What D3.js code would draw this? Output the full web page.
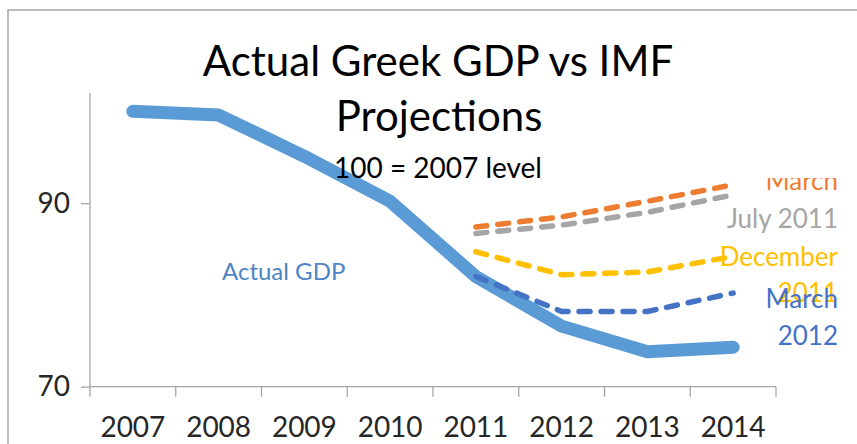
<!DOCTYPE html>
<html><head><meta charset="utf-8">
<script src="https://cdn.jsdelivr.net/npm/d3@7"></script>
<style>
html,body{margin:0;padding:0;background:#fff;}
svg{display:block;font-family:Lato,"Open Sans",sans-serif;}
</style></head>
<body>
<svg id="c" width="857" height="444"></svg>
<script>
const years = ['2007','2008','2009','2010','2011','2012','2013','2014'];
const actualGDP   = [100, 99.6, 95.1, 90.2, 82.0, 76.6, 73.8, 74.3];
const march2011   = [null, null, null, null, 87.4, 88.5, 90.2, 92.0];
const july2011    = [null, null, null, null, 86.7, 87.6, 89.0, 90.9];
const december2011= [null, null, null, null, 84.7, 82.2, 82.5, 84.2];
const march2012   = [null, null, null, null, 82.0, 78.2, 78.2, 80.2];
const yTicks = [70, 90];

const svg = d3.select('#c');
// outer chart frame
svg.append('path').attr('d','M8,450 L8,10 L860,10').attr('fill','none')
  .attr('stroke','#a6a6a6').attr('stroke-width',1.5);

const x = d3.scaleBand().domain(years).range([90,776]).padding(0);
const y = d3.scaleLinear().domain([70,102]).range([386.7,93]);

// axes
const gy = svg.append('g').attr('transform','translate(90,0)')
  .call(d3.axisLeft(y).tickValues(yTicks).tickSize(9).tickPadding(10).tickFormat(d3.format('d')));
gy.select('.domain').attr('stroke','#a6a6a6').attr('stroke-width',1.3).attr('d','M0,93V386.7');
gy.selectAll('.tick line').attr('stroke','#a6a6a6').attr('stroke-width',1.3);
gy.selectAll('.tick text').attr('font-size',28).attr('fill','#262626').attr('font-family','Lato').attr('dx',-1);

const gx = svg.append('g').attr('transform','translate(0,386.7)')
  .call(d3.axisBottom(x).tickSize(0).tickPadding(0));
gx.select('.domain').attr('stroke','#a6a6a6').attr('stroke-width',1.3).attr('d','M90,0H776');
gx.selectAll('.tick line').remove();
gx.selectAll('.tick text').attr('font-size',28).attr('fill','#262626').attr('dy',0).attr('y',50).attr('font-family','Lato');
// category boundary ticks
const bounds = years.map(d=>x(d)).concat([x(years[years.length-1])+x.bandwidth()]);
gx.selectAll('line.bt').data(bounds).enter().append('line').attr('class','bt')
  .attr('x1',d=>d).attr('x2',d=>d).attr('y1',0).attr('y2',10)
  .attr('stroke','#a6a6a6').attr('stroke-width',1.3);

const cx = d => x(d)+x.bandwidth()/2;
const line = d3.line().defined(d=>d.v!=null).x(d=>cx(d.k)).y(d=>y(d.v));
const toPts = arr => years.map((k,i)=>({k, v:arr[i]}));

svg.append('path').datum(toPts(actualGDP)).attr('d',line).attr('fill','none')
  .attr('stroke','#5b9bd5').attr('stroke-width',13).attr('stroke-linecap','round').attr('stroke-linejoin','round');

const proj = [
  {vals:march2011, color:'#ed7d31'},
  {vals:july2011, color:'#a5a5a5'},
  {vals:december2011, color:'#ffc000'},
  {vals:march2012, color:'#4472c4'}
];
proj.forEach(p=>{
  svg.append('path').datum(toPts(p.vals)).attr('d',line).attr('fill','none')
    .attr('stroke',p.color).attr('stroke-width',5.5).attr('stroke-linecap','round')
    .attr('stroke-linejoin','round').attr('stroke-dasharray','11,11');
});

// titles
const title = svg.append('text').attr('text-anchor','middle').attr('fill','#000').attr('font-family','Lato');
title.append('tspan').attr('x',438).attr('y',76).attr('font-size',42).text('Actual Greek GDP vs IMF');
title.append('tspan').attr('x',439).attr('y',131).attr('font-size',42).text('Projections');
svg.append('text').attr('x',438).attr('y',178).attr('text-anchor','middle').attr('font-size',28)
  .attr('font-family','Lato').text('100 = 2007 level');

// series labels
svg.append('text').attr('x',222).attr('y',280).attr('font-size',24).attr('fill','#4e85c6').text('Actual GDP');

svg.append('clipPath').attr('id','clipM').append('rect').attr('x',700).attr('y',178).attr('width',157).attr('height',60);
const lab = (t,yy,col,clip) => {
  const s = svg.append('text').attr('x',838).attr('y',yy).attr('text-anchor','end')
    .attr('font-size',26).attr('fill',col).text(t);
  if(clip) s.attr('clip-path','url(#clipM)');
};
lab('March',190,'#ed7d31',true);
lab('July 2011',228,'#a5a5a5');
lab('December',266,'#ffc000');
lab('2011',302,'#ffc000');
lab('March',308,'#4472c4');
lab('2012',345,'#4472c4');
</script>
</body></html>
